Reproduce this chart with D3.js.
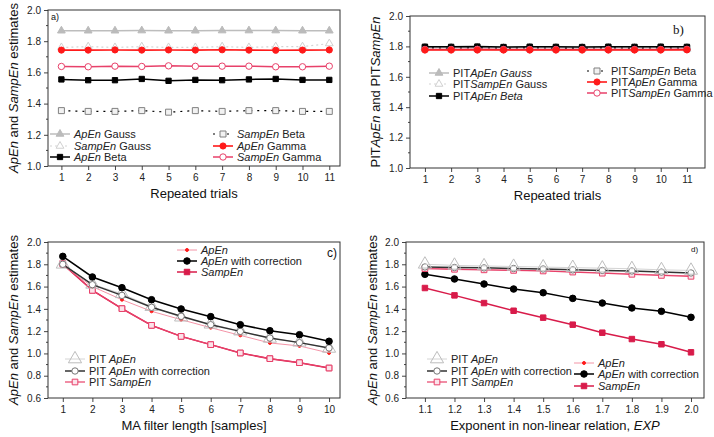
<!DOCTYPE html>
<html>
<head>
<meta charset="utf-8">
<script src="https://cdn.jsdelivr.net/npm/d3@7"></script>
<style>
  body { margin: 0; background: #fff; }
  svg { display: block; font-family: "Liberation Sans", Arial, sans-serif; }
</style>
</head>
<body>
<svg id="chart" width="714" height="437"></svg>
<script>
// ---- data ----
const trials = [1, 2, 3, 4, 5, 6, 7, 8, 9, 10, 11];
const apenGauss   = [1.867, 1.867, 1.867, 1.868, 1.867, 1.867, 1.868, 1.868, 1.868, 1.867, 1.867];
const sampenGauss = [1.760, 1.765, 1.760, 1.765, 1.760, 1.760, 1.765, 1.760, 1.765, 1.765, 1.785];
const apenBeta    = [1.555, 1.550, 1.550, 1.558, 1.546, 1.552, 1.550, 1.555, 1.558, 1.552, 1.552];
const sampenBeta  = [1.355, 1.350, 1.350, 1.355, 1.345, 1.355, 1.350, 1.355, 1.355, 1.350, 1.350];
const apenGamma   = [1.743, 1.743, 1.744, 1.743, 1.744, 1.743, 1.745, 1.743, 1.742, 1.743, 1.744];
const sampenGamma = [1.638, 1.636, 1.640, 1.638, 1.642, 1.639, 1.640, 1.640, 1.636, 1.636, 1.640];

const pitApenGauss   = [1.792, 1.792, 1.793, 1.791, 1.792, 1.791, 1.791, 1.792, 1.791, 1.792, 1.791];
const pitSampenGauss = [1.782, 1.782, 1.783, 1.781, 1.782, 1.781, 1.781, 1.782, 1.781, 1.782, 1.781];
const pitApenBeta    = [1.798, 1.797, 1.799, 1.796, 1.798, 1.797, 1.796, 1.798, 1.797, 1.798, 1.797];
const pitSampenBeta  = [1.790, 1.789, 1.790, 1.789, 1.790, 1.789, 1.789, 1.790, 1.789, 1.790, 1.789];
const pitApenGamma   = [1.776, 1.776, 1.776, 1.776, 1.776, 1.776, 1.776, 1.776, 1.776, 1.776, 1.777];
const pitSampenGamma = [1.780, 1.780, 1.781, 1.780, 1.780, 1.780, 1.780, 1.780, 1.780, 1.780, 1.781];

const filterLen = [1, 2, 3, 4, 5, 6, 7, 8, 9, 10];
const cPitApen     = [1.800, 1.620, 1.535, 1.420, 1.325, 1.262, 1.200, 1.135, 1.100, 1.045];
const cPitApenCorr = [1.800, 1.617, 1.521, 1.414, 1.333, 1.258, 1.198, 1.138, 1.097, 1.049];
const cPitSampen   = [1.810, 1.566, 1.402, 1.252, 1.153, 1.079, 1.004, 0.953, 0.917, 0.869];
const cApen        = [1.790, 1.600, 1.482, 1.378, 1.303, 1.231, 1.162, 1.094, 1.067, 1.004];
const cApenCorr    = [1.871, 1.686, 1.590, 1.482, 1.399, 1.330, 1.258, 1.204, 1.168, 1.109];
const cSampen      = [1.800, 1.566, 1.402, 1.252, 1.153, 1.079, 1.004, 0.953, 0.917, 0.869];

const exponents = [1.1, 1.2, 1.3, 1.4, 1.5, 1.6, 1.7, 1.8, 1.9, 2.0];
const dPitApen     = [1.800, 1.790, 1.785, 1.780, 1.775, 1.770, 1.765, 1.760, 1.750, 1.745];
const dPitApenCorr = [1.776, 1.771, 1.768, 1.762, 1.758, 1.750, 1.745, 1.740, 1.730, 1.722];
const dPitSampen   = [1.761, 1.755, 1.750, 1.745, 1.740, 1.730, 1.720, 1.710, 1.700, 1.692];
const dApen        = [1.765, 1.758, 1.752, 1.747, 1.741, 1.733, 1.724, 1.714, 1.704, 1.696];
const dApenCorr    = [1.710, 1.668, 1.623, 1.578, 1.545, 1.494, 1.452, 1.408, 1.378, 1.324];
const dSampen      = [1.587, 1.521, 1.452, 1.383, 1.321, 1.258, 1.186, 1.129, 1.082, 1.010];

const yTicksA = [1.0, 1.2, 1.4, 1.6, 1.8, 2.0];
const yTicksC = [0.6, 0.8, 1.0, 1.2, 1.4, 1.6, 1.8, 2.0];

// ---- styles ----
const RED = '#ff1a1a', PINK = '#e8416a', CRIMSON = '#d81b4a';
const st = {
  apG:  { color: '#bdbdbd', w: 1.5, sym: d3.symbolTriangle, size: 26, fill: '#bbb', mstroke: '#bbb' },
  spG:  { color: '#d4d4d4', w: 1.2, dash: '2,3', sym: d3.symbolTriangle, size: 26, fill: '#fff', mstroke: '#d0d0d0' },
  apB:  { color: '#000', w: 1.5, sym: d3.symbolSquare, size: 28, fill: '#000', mstroke: '#000' },
  spB:  { color: '#000', w: 1.2, dash: '2,5', sym: d3.symbolSquare, size: 36, fill: '#f2f2f2', mstroke: '#808080' },
  apGa: { color: RED, w: 1.6, sym: d3.symbolCircle, size: 30, fill: RED, mstroke: RED },
  spGa: { color: PINK, w: 1.5, sym: d3.symbolCircle, size: 32, fill: '#fff', mstroke: PINK },
  pitAp:     { color: '#d4d4d4', w: 1, sym: d3.symbolTriangle, size: 75, fill: 'none', mstroke: '#bdbdbd' },
  pitApCorr: { color: '#333', w: 1.5, sym: d3.symbolCircle, size: 32, fill: '#fff', mstroke: '#777' },
  pitSp:     { color: PINK, w: 1.2, sym: d3.symbolSquare, size: 32, fill: '#fbe3ea', mstroke: PINK },
  ap:        { color: '#f07890', w: 0.8, sym: d3.symbolCircle, size: 7, fill: RED, mstroke: RED },
  apCorr:    { color: '#000', w: 1.5, sym: d3.symbolCircle, size: 34, fill: '#000', mstroke: '#000' },
  sp:        { color: CRIMSON, w: 1.5, sym: d3.symbolSquare, size: 30, fill: CRIMSON, mstroke: CRIMSON }
};

const I = (t) => [t, true], N = (t) => [t, false];

const panels = [
  {
    box: [48, 10, 340, 166], xDomain: [0.5, 11.4], yDomain: [1, 2],
    xTicks: trials, xFmt: d3.format('d'), yTicks: yTicksA, x: trials,
    yTitle: [I('ApEn'), N(' and '), I('SampEn'), N(' estimates')], yTitleX: 13,
    xTitle: [N('Repeated trials')],
    tag: { text: 'a)', x: 51, y: 20, size: 9, font: null },
    series: [
      { v: apenGauss, s: st.apG, label: [I('ApEn'), N(' Gauss')], lx: 50, ly: 134 },
      { v: sampenGauss, s: st.spG, label: [I('SampEn'), N(' Gauss')], lx: 50, ly: 146 },
      { v: sampenBeta, s: st.spB, label: [I('SampEn'), N(' Beta')], lx: 213, ly: 134 },
      { v: apenBeta, s: st.apB, label: [I('ApEn'), N(' Beta')], lx: 50, ly: 157 },
      { v: sampenGamma, s: st.spGa, label: [I('SampEn'), N(' Gamma')], lx: 213, ly: 157 },
      { v: apenGamma, s: st.apGa, label: [I('ApEn'), N(' Gamma')], lx: 213, ly: 146 }
    ]
  },
  {
    box: [410, 16, 705, 168], xDomain: [0.43, 11.69], yDomain: [1, 2],
    xTicks: trials, xFmt: d3.format('d'), yTicks: yTicksA, x: trials,
    yTitle: [N('PIT'), I('ApEn'), N(' and PIT'), I('SampEn')], yTitleX: 375,
    xTitle: [N('Repeated trials')],
    tag: { text: 'b)', x: 673, y: 34, size: 13, font: '"Liberation Serif", serif' },
    series: [
      { v: pitApenGauss, s: st.apG, label: [N('PIT'), I('ApEn Gauss')], lx: 429, ly: 73 },
      { v: pitSampenGauss, s: st.spG, label: [N('PIT'), I('SampEn'), N(' Gauss')], lx: 429, ly: 84 },
      { v: pitSampenBeta, s: st.spB, label: [N('PIT'), I('SampEn'), N(' Beta')], lx: 587, ly: 71 },
      { v: pitApenBeta, s: st.apB, label: [N('PIT'), I('ApEn Beta')], lx: 429, ly: 96 },
      { v: pitSampenGamma, s: st.spGa, label: [N('PIT'), I('SampEn'), N(' Gamma')], lx: 587, ly: 93 },
      { v: pitApenGamma, s: st.apGa, label: [N('PIT'), I('ApEn'), N(' Gamma')], lx: 587, ly: 82 }
    ]
  },
  {
    box: [48, 242, 340, 398], xDomain: [0.5, 10.37], yDomain: [0.6, 2],
    xTicks: filterLen, xFmt: d3.format('d'), yTicks: yTicksC, x: filterLen,
    yTitle: [I('ApEn'), N(' and '), I('SampEn'), N(' estimates')], yTitleX: 13,
    xTitle: [N('MA filter length [samples]')],
    tag: { text: 'c)', x: 327, y: 257, size: 12, font: null },
    series: [
      { v: cSampen, s: st.sp, label: [I('SampEn')], lx: 177, ly: 272 },
      { v: cPitSampen, s: st.pitSp, label: [N('PIT '), I('SampEn')], lx: 65, ly: 382 },
      { v: cApen, s: st.ap, label: [I('ApEn')], lx: 177, ly: 250 },
      { v: cPitApen, s: st.pitAp, label: [N('PIT '), I('ApEn')], lx: 65, ly: 359 },
      { v: cPitApenCorr, s: st.pitApCorr, label: [N('PIT '), I('ApEn'), N(' with correction')], lx: 65, ly: 371 },
      { v: cApenCorr, s: st.apCorr, label: [I('ApEn'), N(' with correction')], lx: 177, ly: 261 }
    ]
  },
  {
    box: [406, 242, 704, 398], xDomain: [1.036, 2.044], yDomain: [0.6, 2],
    xTicks: exponents, xFmt: d3.format('.1f'), yTicks: yTicksC, x: exponents,
    yTitle: [I('ApEn'), N(' and '), I('SampEn'), N(' estimates')], yTitleX: 372,
    xTitle: [N('Exponent in non-linear relation, '), I('EXP')],
    tag: { text: 'd)', x: 691, y: 252, size: 8, font: null },
    series: [
      { v: dSampen, s: st.sp, label: [I('SampEn')], lx: 574, ly: 386 },
      { v: dApenCorr, s: st.apCorr, label: [I('ApEn'), N(' with correction')], lx: 574, ly: 374 },
      { v: dApen, s: st.ap, label: [I('ApEn')], lx: 574, ly: 363 },
      { v: dPitSampen, s: st.pitSp, label: [N('PIT '), I('SampEn')], lx: 427, ly: 382 },
      { v: dPitApenCorr, s: st.pitApCorr, label: [N('PIT '), I('ApEn'), N(' with correction')], lx: 427, ly: 371 },
      { v: dPitApen, s: st.pitAp, label: [N('PIT '), I('ApEn')], lx: 427, ly: 359 }
    ]
  }
];

const svg = d3.select('#chart');

function richText(sel, parts) {
  parts.forEach(([t, it]) => {
    sel.append('tspan').text(t).attr('font-style', it ? 'italic' : 'normal');
  });
}

function marker(g, s, x, y) {
  g.append('path')
    .attr('d', d3.symbol().type(s.sym).size(s.size)())
    .attr('transform', `translate(${x},${y})`)
    .attr('fill', s.fill)
    .attr('stroke', s.mstroke)
    .attr('stroke-width', 1);
}

panels.forEach((p) => {
  const [x0, y0, x1, y1] = p.box;
  const x = d3.scaleLinear().domain(p.xDomain).range([x0, x1]);
  const y = d3.scaleLinear().domain(p.yDomain).range([y1, y0]);
  const g = svg.append('g');

  // axes
  g.append('g')
    .attr('transform', `translate(0,${y1})`)
    .call(d3.axisBottom(x).tickValues(p.xTicks).tickFormat(p.xFmt).tickSize(4).tickPadding(4))
    .call((a) => a.select('.domain').remove())
    .call((a) => a.selectAll('text').attr('font-size', 10).attr('fill', '#222').attr('font-family', null))
    .call((a) => a.selectAll('line').attr('stroke', '#444'));

  g.append('g')
    .attr('transform', `translate(${x0},0)`)
    .call(d3.axisLeft(y).tickValues(p.yTicks).tickFormat(d3.format('.1f')).tickSize(4).tickPadding(3))
    .call((a) => a.select('.domain').remove())
    .call((a) => a.selectAll('text').attr('font-size', 10).attr('fill', '#222').attr('font-family', null))
    .call((a) => a.selectAll('line').attr('stroke', '#444'));

  // minor ticks on y
  const minor = d3.range(p.yDomain[0] + 0.1, p.yDomain[1], 0.2);
  g.selectAll('.minor').data(minor).enter().append('line')
    .attr('x1', x0).attr('x2', x0 - 2)
    .attr('y1', (d) => y(d)).attr('y2', (d) => y(d))
    .attr('stroke', '#444');

  g.append('rect')
    .attr('x', x0).attr('y', y0)
    .attr('width', x1 - x0).attr('height', y1 - y0)
    .attr('fill', 'none').attr('stroke', '#333').attr('stroke-width', 1);

  // titles
  const yt = g.append('text')
    .attr('transform', `translate(${p.yTitleX},${(y0 + y1) / 2}) rotate(-90)`)
    .attr('text-anchor', 'middle').attr('dominant-baseline', 'central')
    .attr('font-size', 13).attr('fill', '#111');
  richText(yt, p.yTitle);

  const xt = g.append('text')
    .attr('x', (x0 + x1) / 2).attr('y', y1 + 32)
    .attr('text-anchor', 'middle')
    .attr('font-size', 13).attr('fill', '#111');
  richText(xt, p.xTitle);

  g.append('text')
    .attr('x', p.tag.x).attr('y', p.tag.y)
    .attr('font-size', p.tag.size)
    .attr('font-family', p.tag.font)
    .attr('fill', '#111')
    .text(p.tag.text);

  // series
  const line = d3.line().x((d, i) => x(p.x[i])).y((d) => y(d));
  p.series.forEach((sr) => {
    const s = sr.s;
    g.append('path')
      .datum(sr.v)
      .attr('d', line)
      .attr('fill', 'none')
      .attr('stroke', s.color)
      .attr('stroke-width', s.w)
      .attr('stroke-dasharray', s.dash || null);
    sr.v.forEach((d, i) => marker(g, s, x(p.x[i]), y(d)));
  });

  // legend
  p.series.forEach((sr) => {
    const s = sr.s;
    g.append('line')
      .attr('x1', sr.lx).attr('x2', sr.lx + 20)
      .attr('y1', sr.ly).attr('y2', sr.ly)
      .attr('stroke', s.color).attr('stroke-width', s.w)
      .attr('stroke-dasharray', s.dash || null);
    marker(g, s, sr.lx + 10, sr.ly);
    const t = g.append('text')
      .attr('x', sr.lx + 24).attr('y', sr.ly)
      .attr('dominant-baseline', 'central')
      .attr('font-size', 11).attr('fill', '#222');
    richText(t, sr.label);
  });
});
</script>
</body>
</html>
